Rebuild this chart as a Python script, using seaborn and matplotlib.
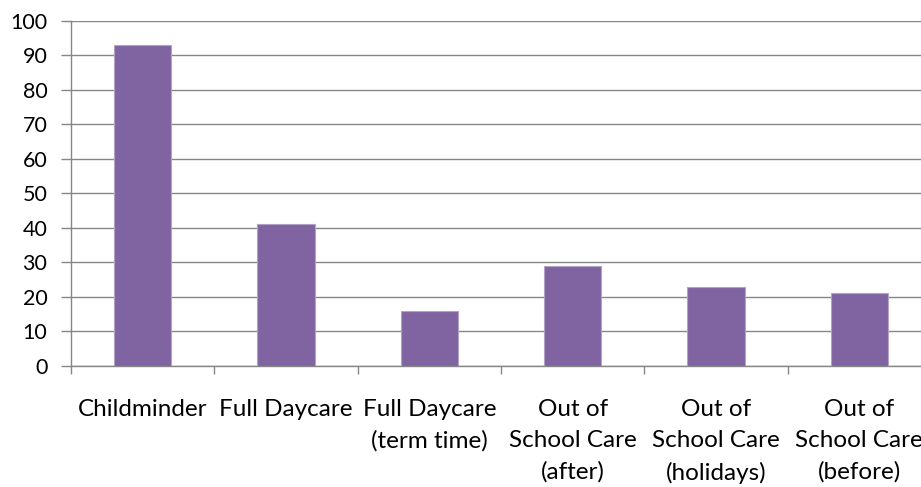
import matplotlib
matplotlib.use("Agg")
import matplotlib.pyplot as plt
import seaborn as sns
import pandas as pd
from matplotlib.ticker import FixedLocator, NullFormatter

categories = ["Childminder", "Full Daycare", "Full Daycare\n(term time)",
              "Out of\nSchool Care\n(after)", "Out of\nSchool Care\n(holidays)",
              "Out of\nSchool Care\n(before)"]
values = [93, 41, 16, 29, 23, 21]
yticks = [0, 10, 20, 30, 40, 50, 60, 70, 80, 90, 100]

sns.set_theme(style="white")
plt.rcParams['font.family'] = ['Lato', 'DejaVu Sans']

df = pd.DataFrame({"cat": categories, "val": values})

fig = plt.figure(figsize=(9.21, 4.87), dpi=100)
ax = fig.add_axes([71/921, 121/487, 860/921, 345.3/487])
sns.barplot(data=df, x="cat", y="val", color="#8064A2", saturation=1,
            width=0.4, edgecolor="#B3A2C7", linewidth=0.8, ax=ax, zorder=3)

ax.set_xlim(-0.5, len(categories) - 0.5)
ax.set_ylim(0, 100)
ax.set_yticks(yticks)
ax.set_yticklabels([str(t) for t in yticks])
ax.yaxis.grid(True, color="#868686", linewidth=1.0, zorder=0)
ax.set_axisbelow(True)

# x ticks at category boundaries, labels at centres
ax.xaxis.set_major_locator(FixedLocator([i - 0.5 for i in range(len(categories) + 1)]))
ax.xaxis.set_major_formatter(NullFormatter())
ax.xaxis.set_minor_locator(FixedLocator(list(range(len(categories)))))
ax.set_xticklabels(categories, minor=True)
ax.tick_params(axis="x", which="major", direction="out", length=6, width=1,
               color="#868686", bottom=True)
ax.tick_params(axis="x", which="minor", length=0, pad=24, labelsize=17.5,
               labelcolor="black")
for lab in ax.get_xticklabels(minor=True):
    lab.set_multialignment("center")
    lab.set_linespacing(1.58)
    lab.set_verticalalignment("top")
ax.tick_params(axis="y", direction="out", length=7, width=1, color="#868686",
               left=True, labelsize=15.5, labelcolor="black", pad=10)

ax.set_xlabel("")
ax.set_ylabel("")
for s in ["top", "right"]:
    ax.spines[s].set_visible(False)
for s in ["left", "bottom"]:
    ax.spines[s].set_color("#868686")
    ax.spines[s].set_linewidth(1.0)

fig.savefig("out.png", dpi=100)
